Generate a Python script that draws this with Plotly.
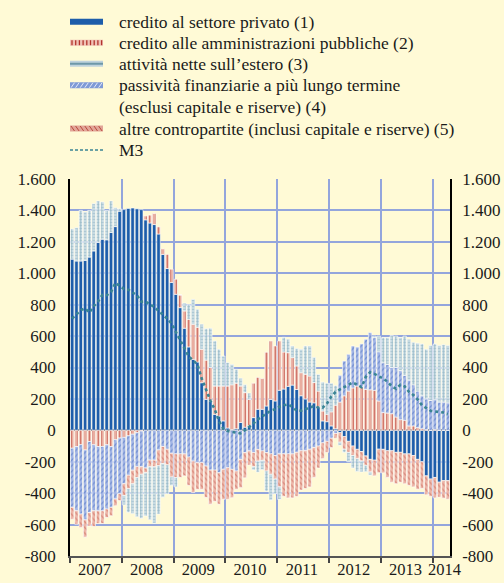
import plotly.graph_objects as go
import pandas as pd

# monthly data, Jan 2007 - Apr 2014 (annual flows, billions of euro)
months = pd.date_range("2007-01-01", periods=88, freq="MS")
idx = list(range(len(months)))

privato = [1090, 1078, 1078, 1082, 1103, 1142, 1196, 1217, 1213, 1260, 1297, 1395,
           1405, 1412, 1415, 1410, 1405, 1340, 1320, 1310, 1250, 1120, 1030, 941,
           866, 781, 650, 531, 452, 435, 303, 197, 187, 102, 91, 60,
           15, 5, 10, 50, 20, 30, 81, 134, 134, 155, 197, 187,
           255, 263, 280, 288, 260, 220, 200, 180, 175, 150, 60, 55,
           28, 10, -15, -40, -70, -100, -121, -135, -163, -185, -190, -120,
           -121, -130, -130, -140, -140, -150, -150, -160, -185, -200, -290, -310,
           -300, -330, -320, -320]

pubbliche = [-114, -103, -92, -125, -71, -92, -103, -103, -92, -103, -60, -49,
             -45, -35, -25, -15, -5, 25, 50, 70, 45, 35, 90, 85,
             96, 81, 110, 176, 223, 221, 213, 250, 214, 180, 191, 222,
             267, 285, 290, 232, 220, 167, 219, 203, 196, 342, 372, 350,
             314, 236, 214, 175, 150, 147, 157, 166, 129, 100, 63, 47,
             90, 150, 180, 220, 250, 270, 282, 275, 261, 258, 255, 187,
             113, 110, 106, 85, 68, 64, 28, 28, 17, 10, 5, 0,
             5, 0, 0, 0]

estero = [192, 212, 322, 308, 297, 301, 264, 237, 187, 200, 120, 15,
          -60, -150, -190, -250, -280, -275, -337, -360, -308, -215, -184, -53,
          -60, 0, 50, 93, 159, 114, 160, 200, 249, 287, 234, 191,
          149, 130, 88, 50, 50, 40, -20, -70, -60, -128, -164, -93,
          -80, 93, 86, 74, 110, 149, 180, 191, 160, 106, 184, 198,
          182, 125, -20, -20, -60, -80, -80, -70, -40, -20, 10, 100,
          160, 170, 203, 200, 210, 250, 260, 270, 305, 330, 316, 350,
          355, 360, 365, 365]

passivita = [-376, -409, -441, -445, -452, -420, -410, -410, -409, -387, -377, -355,
             -295, -251, -229, -217, -227, -240, -189, -190, -125, -103, -120, -146,
             -150, -150, -150, -170, -196, -206, -206, -227, -253, -253, -270, -248,
             -238, -248, -259, -185, -142, -131, -142, -121, -131, -142, -150, -160,
             -150, -150, -150, -150, -140, -130, -130, -120, -110, -100, -80, -70,
             -50, -20, 170, 221, 234, 267, 248, 275, 319, 364, 335, 313,
             317, 310, 294, 315, 312, 286, 292, 262, 233, 210, 195, 190,
             190, 180, 180, 175]

altre = [-76, -86, -86, -110, -86, -100, -80, -80, -54, -54, -43, -43,
         -75, -86, -86, -68, -48, -30, -43, -42, -100, -108, -100, -151,
         -150, -150, -140, -180, -200, -170, -170, -200, -217, -200, -200, -191,
         -201, -181, -116, -180, -160, -90, -90, -75, -60, -117, -130, -150,
         -210, -270, -280, -280, -280, -250, -240, -240, -190, -140, -100, -70,
         -60, -30, -60, -80, -70, -60, -60, -60, -60, -80, -100, -150,
         -150, -170, -200, -200, -190, -190, -200, -200, -190, -170, -120, -110,
         -130, -95, -112, -118]

m3 = [712, 740, 765, 776, 750, 790, 820, 862, 860, 880, 938, 920,
      900, 895, 880, 860, 819, 820, 800, 787, 760, 735, 712, 680,
      626, 580, 520, 470, 445, 420, 330, 260, 190, 134, 60, 10,
      -5, -10, -15, -19, 0, 20, 45, 70, 90, 110, 125, 134,
      150, 160, 165, 150, 125, 125, 135, 150, 155, 145, 144, 170,
      215, 245, 260, 275, 295, 305, 290, 275, 340, 369, 359, 345,
      330, 310, 280, 265, 290, 280, 245, 225, 197, 160, 140, 125,
      120, 115, 113, 102]

y_ticks = [-800, -600, -400, -200, 0, 200, 400, 600, 800, 1000, 1200, 1400, 1600]
y_text = ["-800", "-600", "-400", "-200", "0", "200", "400", "600", "800",
          "1.000", "1.200", "1.400", "1.600"]

labels = ["credito al settore privato (1)",
          "credito alle amministrazioni pubbliche (2)",
          "attività nette sull’estero (3)",
          "passività finanziarie a più lungo termine\n(esclusi capitale e riserve) (4)",
          "altre contropartite (inclusi capitale e riserve) (5)",
          "M3"]

BG = "#FFFAD6"
GRID = "#93A5DC"
FONT = "Liberation Serif"
W, H = 504, 583
L, R, T, B = 70, 54, 179, 27
PW, PH = W - L - R, H - T - B

years = sorted(set(months.year))
year_start = [idx[list(months.year).index(y)] - 0.5 for y in years]
year_mid = []
for y in years:
    ii = [i for i, d in zip(idx, months) if d.year == y]
    year_mid.append(sum(ii) / len(ii) - 0.3)
year_mid[-1] += 1.0

fig = go.Figure()

bar_line = dict(color="white", width=0.6)
fig.add_trace(go.Bar(x=idx, y=privato, marker=dict(color="#1D5DAA", line=bar_line)))
fig.add_trace(go.Bar(x=idx, y=pubbliche, marker=dict(
    color="#E7A99C", line=bar_line,
    pattern=dict(shape="|", bgcolor="#E9AD9F", fgcolor="#B3342C", size=3, solidity=0.3))))
fig.add_trace(go.Bar(x=idx, y=passivita, marker=dict(
    color="#A6B8E6", line=bar_line,
    pattern=dict(shape="/", bgcolor="#A2B5E6", fgcolor="#3F67B8", size=4, solidity=0.3))))
fig.add_trace(go.Bar(x=idx, y=altre, marker=dict(
    color="#EBB3A5", line=bar_line,
    pattern=dict(shape="\\", bgcolor="#EDB6A8", fgcolor="#C25A4C", size=4, solidity=0.3))))
fig.add_trace(go.Bar(x=idx, y=estero, marker=dict(
    color="#C3D8E0", line=bar_line,
    pattern=dict(shape="+", bgcolor="#C6DAE2", fgcolor="#5C90A3", size=3, solidity=0.3))))
fig.add_trace(go.Scatter(x=idx, y=m3, mode="lines", xaxis="x2", yaxis="y2",
                         line=dict(color="#3A8494", width=2.6, dash="dot")))


def px(x):
    return (x - L) / PW


def py(y):
    return (H - B - y) / PH


# hand-made legend
shapes = []
gx0, gx1 = 70, 103
glyph_y = [21.7, 42.7, 63.7, 85.2, 128.5, 150]


def rect(y, color):
    shapes.append(dict(type="rect", xref="paper", yref="paper", x0=px(gx0), x1=px(gx1),
                       y0=py(y + 3), y1=py(y - 3), fillcolor=color, line_width=0))


def seg(xa, ya, xb, yb, color, w):
    shapes.append(dict(type="line", xref="paper", yref="paper", x0=px(xa), y0=py(ya),
                       x1=px(xb), y1=py(yb), line=dict(color=color, width=w)))


rect(glyph_y[0], "#1D5DAA")
rect(glyph_y[1], "#F0C2B6")
for k in range(9):
    xx = gx0 + 2 + k * 3.7
    seg(xx, glyph_y[1] - 2.5, xx, glyph_y[1] + 2.5, "#B3342C", 1.3)
rect(glyph_y[2], "#BFD3DD")
seg(gx0, glyph_y[2], gx1, glyph_y[2], "#6E98A8", 2)
rect(glyph_y[3], "#7F9AD6")
for k in range(7):
    xx = gx0 + 1 + k * 4.6
    seg(xx, glyph_y[3] + 2.5, xx + 3.5, glyph_y[3] - 2.5, "#EEF0FA", 0.9)
rect(glyph_y[4], "#E2A598")
for k in range(7):
    xx = gx0 + 1 + k * 4.6
    seg(xx, glyph_y[4] - 2.5, xx + 3.5, glyph_y[4] + 2.5, "#B84A3E", 1)
shapes.append(dict(type="line", xref="paper", yref="paper", x0=px(gx0), x1=px(gx1),
                   y0=py(glyph_y[5]), y1=py(glyph_y[5]),
                   line=dict(color="#3A8494", width=1.5, dash="3px,2px")))

annotations = []
text_rows = []
for lab, gy in zip(labels, glyph_y):
    for j, part in enumerate(lab.split("\n")):
        text_rows.append((part, gy + j * 21.6))
for part, ty in text_rows:
    annotations.append(dict(text=part, xref="paper", yref="paper", x=px(117), y=py(ty),
                            xanchor="left", yanchor="middle", showarrow=False,
                            font=dict(family=FONT, size=17.5, color="#1a1a1a")))

fig.update_layout(
    width=W, height=H,
    margin=dict(l=L, r=R, t=T, b=B, autoexpand=False),
    paper_bgcolor=BG, plot_bgcolor=BG,
    barmode="relative", bargap=0.2,
    showlegend=False,
    font=dict(family=FONT, size=17, color="#1a1a1a"),
    shapes=shapes,
    annotations=annotations,
    xaxis=dict(range=[-0.5, len(idx) - 0.5], tickvals=year_start, showticklabels=False,
               showgrid=True, gridcolor=GRID, gridwidth=1.5, automargin=False,
               ticks="outside", ticklen=5, tickwidth=1.5, tickcolor="#444",
               showline=True, linecolor="#555", linewidth=2, zeroline=False),
    xaxis2=dict(range=[-0.5, len(idx) - 0.5], overlaying="x", side="bottom", anchor="y",
                tickvals=year_mid, ticktext=[str(y) for y in years], automargin=False,
                showgrid=False, showline=False, zeroline=False, ticks="",
                ticklabelstandoff=1, tickfont=dict(family=FONT, size=16.5)),
    yaxis=dict(range=[-800, 1600], tickvals=y_ticks, ticktext=y_text, automargin=False,
               showgrid=True, gridcolor=GRID, gridwidth=1.5, zeroline=False,
               showline=True, linecolor="black", linewidth=1.5, ticks="",
               ticklabelstandoff=9, tickfont=dict(family=FONT, size=17)),
    yaxis2=dict(range=[-800, 1600], overlaying="y", side="right", anchor="x",
                tickvals=y_ticks, ticktext=y_text, showgrid=False, automargin=False,
                zeroline=True, zerolinecolor="black", zerolinewidth=2,
                showline=True, linecolor="black", linewidth=1.5, ticks="",
                ticklabelstandoff=7, tickfont=dict(family=FONT, size=17)),
)

# drop the page's default body margin so the figure sits at the window origin
fig.write_html("out.html", config={"displayModeBar": False}, post_script=(
    "document.body.style.margin='0';"
    "document.body.style.overflow='hidden';"
    "document.body.style.background='" + BG + "';"))
